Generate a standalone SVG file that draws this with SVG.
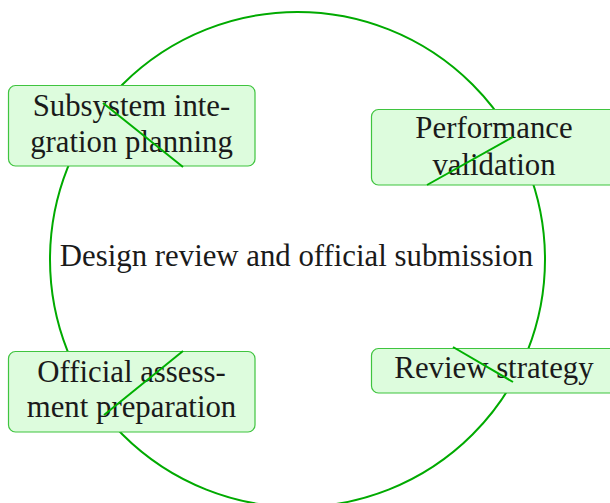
<svg xmlns="http://www.w3.org/2000/svg" width="610" height="503" viewBox="0 0 610 503">
<style>
.node rect{fill:#ddfcdd;stroke:#3fc43f;stroke-width:1.2}
text{font-family:"Liberation Serif","Times New Roman",serif;font-size:30.8px;fill:#1a1a1a;text-anchor:middle}
.ring{fill:none;stroke:#00aa00;stroke-width:2}
.conn line{stroke:#00b000;stroke-width:2;fill:none}
</style>
<circle class="ring" cx="297.5" cy="259.5" r="247.5"/>
<g id="center"><text x="296.5" y="266">Design review and official submission</text></g>
<g id="n1" class="node"><rect x="8.5" y="85.5" width="246.5" height="80.5" rx="7"/><text x="131.5" y="116">Subsystem inte-</text><text x="131.5" y="152">gration planning</text></g>
<g id="n2" class="node"><rect x="371.5" y="109.5" width="246" height="75.5" rx="7"/><text x="494" y="138">Performance</text><text x="494" y="175">validation</text></g>
<g id="n3" class="node"><rect x="8.5" y="351.5" width="246.5" height="80.5" rx="7"/><text x="131.5" y="382">Official assess-</text><text x="131.5" y="417">ment preparation</text></g>
<g id="n4" class="node"><rect x="371.5" y="348.5" width="246" height="44.5" rx="7"/><text x="494" y="378">Review strategy</text></g>
<g id="connectors" class="conn">
<line x1="103" y1="103" x2="183" y2="167"/>
<line x1="513" y1="137" x2="427" y2="185"/>
<line x1="183" y1="351" x2="104" y2="415"/>
<line x1="453" y1="347" x2="513" y2="382"/>
</g>
</svg>
